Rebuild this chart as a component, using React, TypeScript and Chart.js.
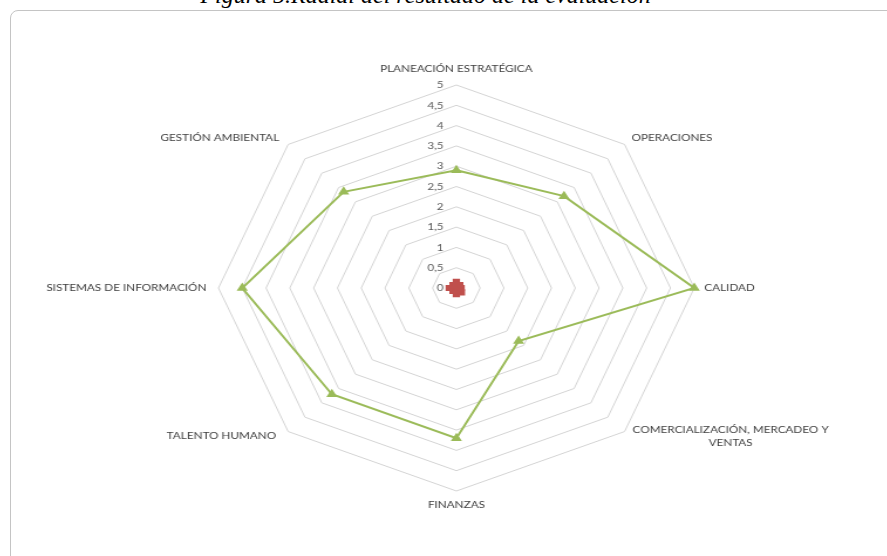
import React, { useEffect, useRef } from "react";
import { Chart, registerables } from "chart.js";

Chart.register(...registerables);

const CATEGORIES: (string | string[])[] = [
  "PLANEACIÓN ESTRATÉGICA",
  "OPERACIONES",
  "CALIDAD",
  ["COMERCIALIZACIÓN, MERCADEO Y", "VENTAS"],
  "FINANZAS",
  "TALENTO HUMANO",
  "SISTEMAS DE INFORMACIÓN",
  "GESTIÓN AMBIENTAL",
];

const RESULTADO = [2.9, 3.2, 5, 1.85, 3.7, 3.7, 4.5, 3.35];
const BASE = [0.15, 0.1, 0.1, 0.15, 0.15, 0.1, 0.15, 0.1];
const TICK_VALUES = [0, 0.5, 1, 1.5, 2, 2.5, 3, 3.5, 4, 4.5, 5];
const TICK_LABELS = ["0", "0,5", "1", "1,5", "2", "2,5", "3", "3,5", "4", "4,5", "5"];

const TITLE = "Figura 5.Radial del resultado de la evaluación";

const STRETCH = 1.172;
const W0 = 760;
const PAD_V = 24;
const H0 = 448 + 2 * PAD_V;

const tickPlugin = {
  id: "excelTicks",
  afterDraw(chart: any) {
    const scale = chart.scales.r;
    if (!scale) return;
    const ctx = chart.ctx;
    ctx.save();
    ctx.font = "10px Lato";
    ctx.fillStyle = "#595959";
    ctx.textAlign = "right";
    ctx.textBaseline = "middle";
    TICK_VALUES.forEach((v, i) => {
      const d = scale.getDistanceFromCenterForValue(v);
      ctx.fillText(TICK_LABELS[i], scale.xCenter - 11, scale.yCenter - d);
    });

    // point labels placed the way the spreadsheet does
    ctx.fillStyle = "#404040";
    const R = scale.drawingArea;
    const s = STRETCH;
    const labels = chart.data.labels as (string | string[])[];
    labels.forEach((lab, i) => {
      const p = scale.getPointPosition(i, R);
      const lines = Array.isArray(lab) ? lab : [lab];
      let align: CanvasTextAlign = "center";
      let x = p.x;
      let y = p.y;
      switch (i) {
        case 0:
          y = p.y - 16;
          break;
        case 1:
          align = "left";
          x = p.x + 7 / s;
          y = p.y - 7;
          break;
        case 2:
          align = "left";
          x = p.x + 10 / s;
          break;
        case 3: {
          align = "center";
          const w = ctx.measureText(lines[0]).width;
          x = p.x + 8 / s + w / 2;
          y = p.y - 2;
          break;
        }
        case 4:
          y = p.y + 14;
          break;
        case 5:
          align = "right";
          x = p.x - 12 / s;
          y = p.y + 4;
          break;
        case 6:
          align = "right";
          x = p.x - 12 / s;
          break;
        case 7:
          align = "right";
          x = p.x - 9 / s;
          y = p.y - 7;
          break;
      }
      ctx.textAlign = align;
      lines.forEach((ln, k) => ctx.fillText(ln, x, y + k * 13));
    });
    ctx.restore();
  },
};

export default function App() {
  const canvasRef = useRef<HTMLCanvasElement | null>(null);

  useEffect(() => {
    if (!canvasRef.current) return;
    const chart = new Chart(canvasRef.current, {
      type: "radar",
      data: {
        labels: CATEGORIES as any,
        datasets: [
          {
            label: "Base",
            data: BASE,
            borderColor: "#c0504d",
            backgroundColor: "#c0504d",
            fill: true,
            borderWidth: 2,
            pointStyle: "rect",
            pointRadius: 3,
            pointBackgroundColor: "#c0504d",
            pointBorderColor: "#c0504d",
          },
          {
            label: "Resultado",
            data: RESULTADO,
            borderColor: "#9bbb59",
            backgroundColor: "#9bbb59",
            fill: false,
            borderWidth: 2,
            pointStyle: "triangle",
            pointRadius: 3.5,
            pointBackgroundColor: "#9bbb59",
            pointBorderColor: "#9bbb59",
          },
        ],
      },
      options: {
        animation: false,
        responsive: true,
        maintainAspectRatio: false,
        layout: { padding: { top: PAD_V, bottom: PAD_V } },
        plugins: {
          legend: { display: false },
          title: { display: false },
          tooltip: { enabled: false },
        },
        elements: { line: { tension: 0 } },
        scales: {
          r: {
            min: 0,
            max: 5,
            beginAtZero: true,
            ticks: { display: false, stepSize: 0.5 },
            grid: { circular: false, color: "#d4d4d4", lineWidth: 1 },
            angleLines: { display: false },
            pointLabels: {
              display: true,
              padding: 9,
              color: "rgba(0,0,0,0)",
              font: { family: "Lato", size: 10 },
            },
          },
        },
      },
      plugins: [tickPlugin],
    });
    return () => chart.destroy();
  }, []);

  return (
    <div
      style={{
        position: "fixed",
        left: 0,
        top: 0,
        width: 887,
        height: 556,
        overflow: "hidden",
        background: "#ffffff",
      }}
    >
      <div
        style={{
          position: "absolute",
          left: 0,
          width: 887,
          top: -19,
          textAlign: "center",
          fontFamily: "'Liberation Serif', serif",
          fontStyle: "italic",
          fontSize: 24,
          lineHeight: "28px",
          color: "#000",
          whiteSpace: "nowrap",
        }}
      >
        <span style={{ position: "relative", left: -18 }}>{TITLE}</span>
      </div>
      <div
        style={{
          position: "absolute",
          left: 10,
          top: 10,
          width: 920,
          height: 620,
          border: "1px solid #c4c4c4",
          borderRadius: 8,
          boxSizing: "border-box",
        }}
      />
      <div
        style={{
          position: "absolute",
          left: 456 - STRETCH * (W0 / 2),
          top: 288 - PAD_V - 224,
          transform: `scaleX(${STRETCH})`,
          transformOrigin: "0 0",
        }}
      >
        <div style={{ position: "relative", width: W0, height: H0 }}>
          <canvas ref={canvasRef} />
        </div>
      </div>
    </div>
  );
}
